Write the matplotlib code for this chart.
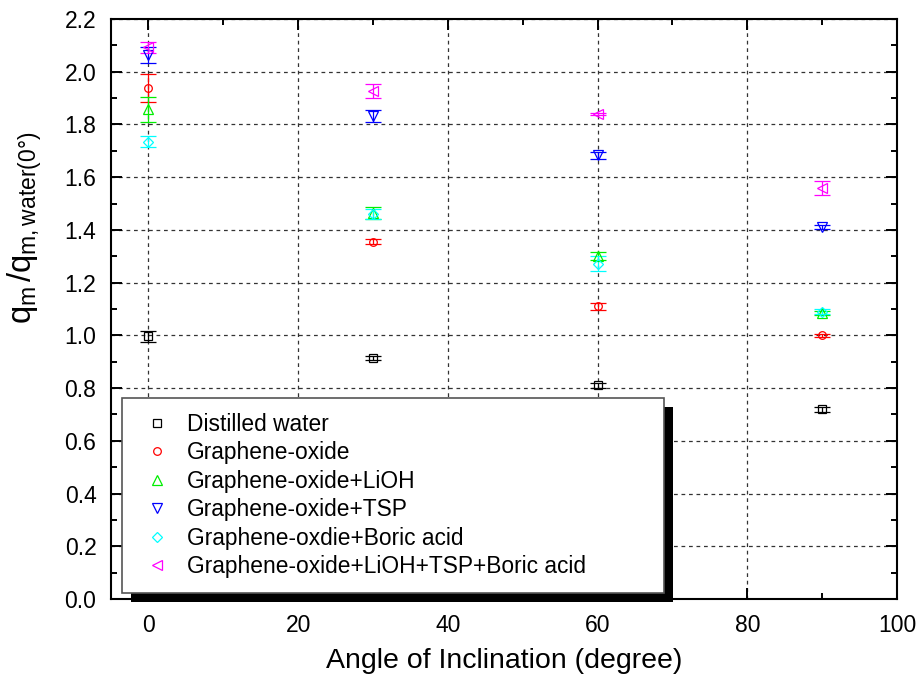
import matplotlib
matplotlib.use("Agg")
import matplotlib.pyplot as plt
from matplotlib.lines import Line2D
from matplotlib.patches import Rectangle
from matplotlib.ticker import MultipleLocator, FormatStrFormatter

plt.rcParams['font.family'] = ['Liberation Sans', 'DejaVu Sans']
plt.rcParams['mathtext.fontset'] = 'custom'
plt.rcParams['mathtext.rm'] = 'Liberation Sans'
plt.rcParams['mathtext.it'] = 'Liberation Sans'
plt.rcParams['mathtext.bf'] = 'Liberation Sans:bold'

angles = [0, 30, 60, 90]

labels = ["Distilled water", "Graphene-oxide", "Graphene-oxide+LiOH",
          "Graphene-oxide+TSP", "Graphene-oxdie+Boric acid",
          "Graphene-oxide+LiOH+TSP+Boric acid"]

water = [0.996, 0.915, 0.810, 0.720]
water_err = [0.021, 0.008, 0.008, 0.010]
go = [1.94, 1.355, 1.11, 1.00]
go_err = [0.053, 0.010, 0.012, 0.005]
go_lioh = [1.857, 1.465, 1.30, 1.085]
go_lioh_err = [0.047, 0.022, 0.015, 0.008]
go_tsp = [2.063, 1.833, 1.683, 1.41]
go_tsp_err = [0.030, 0.022, 0.014, 0.008]
go_boric = [1.735, 1.46, 1.272, 1.09]
go_boric_err = [0.022, 0.020, 0.028, 0.010]
go_all = [2.092, 1.928, 1.84, 1.56]
go_all_err = [0.022, 0.027, 0.005, 0.027]

series = [water, go, go_lioh, go_tsp, go_boric, go_all]
errors = [water_err, go_err, go_lioh_err, go_tsp_err, go_boric_err, go_all_err]
colors = ['black', 'red', '#00ee00', 'blue', 'cyan', 'magenta']
markers = ['s', 'o', '^', 'v', 'D', '<']
msizes = [5.2, 5.5, 7, 7, 5.5, 7]

fig = plt.figure(figsize=(9.21, 6.78), dpi=100)
ax = fig.add_axes([111/921, 79/678, 786/921, 580/678])

for y, e, c, m, ms in zip(series, errors, colors, markers, msizes):
    ax.errorbar(angles, y, yerr=e, fmt=m, color=c, mfc='none', mec=c,
                ms=ms, mew=0.9, elinewidth=0.9, capsize=6.1, capthick=1.0,
                zorder=3)

ax.set_xlim(-5, 100)
ax.set_ylim(0, 2.2)
ax.xaxis.set_major_locator(MultipleLocator(20))
ax.xaxis.set_minor_locator(MultipleLocator(10))
ax.yaxis.set_major_locator(MultipleLocator(0.2))
ax.yaxis.set_minor_locator(MultipleLocator(0.1))
ax.yaxis.set_major_formatter(FormatStrFormatter('%.1f'))

ax.grid(True, which='major', color='#333333', linestyle=(0, (3, 3)), linewidth=0.9, zorder=1)
ax.set_axisbelow(True)
ax.tick_params(which='both', direction='in', top=True, right=True, width=1.4)
ax.tick_params(which='major', length=8, labelsize=16.5)
ax.tick_params(which='minor', length=4.5)
ax.tick_params(axis='y', which='major', pad=10.5)
ax.tick_params(axis='x', which='major', pad=11)
for s in ax.spines.values():
    s.set_linewidth(1.5)

ax.set_xlabel('Angle of Inclination (degree)', fontsize=20.5, labelpad=8)
ax.set_ylabel(r'$q_m\,/q_{m,water(0°)}$', fontsize=23.5)
ax.yaxis.set_label_coords(-0.085, 0.64)

handles = [Line2D([], [], linestyle='none', marker=m, color=c, mfc='none', mec=c,
                  ms=ms, mew=0.9) for c, m, ms in zip(colors, markers, msizes)]
leg = ax.legend(handles, labels, loc='lower left',
                bbox_to_anchor=(0.0140, 0.010, 0.690, 0.338), mode='expand',
                borderaxespad=0, fontsize=16.4, frameon=True, fancybox=False,
                borderpad=0.66, handlelength=1.75, handletextpad=0.45,
                labelspacing=0.24, framealpha=1.0, facecolor='white')
leg.get_frame().set_edgecolor('#555555')
leg.get_frame().set_linewidth(1.2)
leg.set_zorder(6)

fig.canvas.draw()
bb = leg.get_window_extent()
off = 9
inv = ax.transAxes.inverted()
(x0, y0) = inv.transform((bb.x0 + off, bb.y0 - off))
(x1, y1) = inv.transform((bb.x1 + off, bb.y1 - off))
shadow = Rectangle((x0, y0), x1 - x0, y1 - y0, transform=ax.transAxes,
                   facecolor='black', edgecolor='none', clip_on=False, zorder=5.5)
ax.add_patch(shadow)

fig.savefig('out.png', dpi=100)
